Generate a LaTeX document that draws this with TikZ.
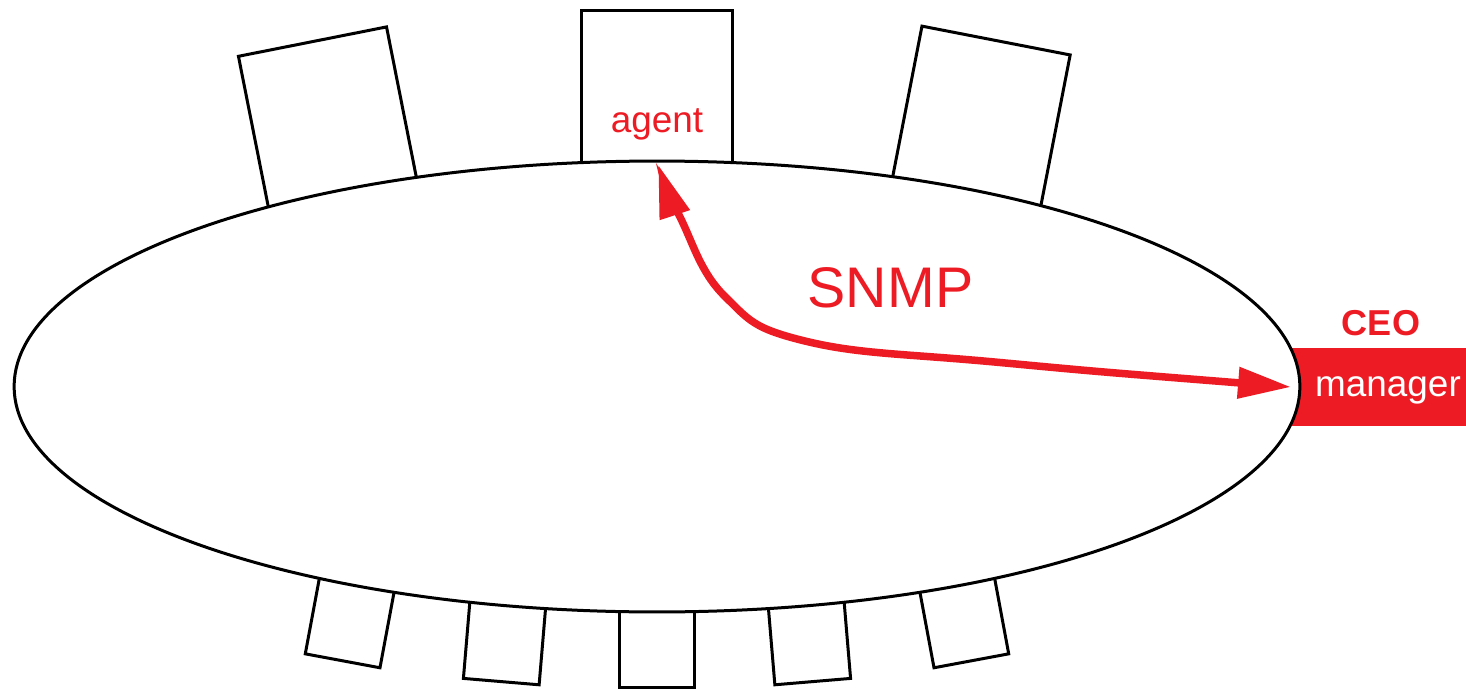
\documentclass[tikz,border=0pt]{standalone}
\usepackage{fontspec}
\setmainfont{Liberation Sans}
\usetikzlibrary{positioning,shapes.geometric,arrows.meta}
\definecolor{snmpred}{RGB}{237,28,36}

\begin{document}
\begin{tikzpicture}[x=0.02cm, y=0.02cm,
  chair/.style={draw, line width=0.06cm, rectangle, inner sep=0pt, outer sep=0pt, anchor=south},
  roundtable/.style={ellipse, draw, fill=white, line width=0.06cm, inner sep=0pt, outer sep=0pt,
    minimum width=25.72cm, minimum height=9.02cm},
  redtext/.style={text=snmpred, inner sep=0pt, font=\fontsize{21}{25}\selectfont},
  snmp/.style={snmpred, line width=0.15cm, >={Triangle[length=1.06cm,width=0.6cm]}, <->}]
  \useasboundingbox (-657,-303.5) rectangle (809,386.5);
  \clip (-657,-303.5) rectangle (809,386.5);
  % chairs round the table (angle on the ellipse / side length)
  \foreach \a/\s [count=\i] in {61/3.02cm, 90/3.02cm, 119.5/3.02cm,
      242/1.52cm, 256.5/1.52cm, 270/1.52cm, 283.5/1.52cm, 298/1.52cm} {
    \pgfmathsetmacro\tilt{atan2(-225.5*cos(\a), 643*sin(\a))}
    \node[chair, minimum width=\s, minimum height=\s+0.1cm, rotate=\tilt] (chair\i) at (\a:638 and 220.5) {};
  }
  % manager seat
  \node[fill=snmpred, minimum width=3.88cm, minimum height=1.56cm, inner sep=0pt, outer sep=0pt,
    text=white, text depth=0pt, font=\fontsize{21}{25}\selectfont] (manager) at (731,-0.5) {manager};
  \node[roundtable] (table) at (0,0) {};
  \node[redtext, anchor=base] (agent) at (0,253.5) {agent};
  \node[redtext, anchor=base, font=\fontsize{20.5}{24}\selectfont\bfseries] (ceo) at (724,51.5) {CEO};
  \node[redtext, anchor=base, font=\fontsize{32.6}{38}\selectfont] (snmplabel) at (233.5,79.5) {SNMP};
  % SNMP link
  \draw[snmp, shorten >=0.08cm] plot[smooth, tension=0.7] coordinates
    {(manager.west) (343,24) (150,45) (68,90) (23,169.5) (table.north)};
\end{tikzpicture}
\end{document}
